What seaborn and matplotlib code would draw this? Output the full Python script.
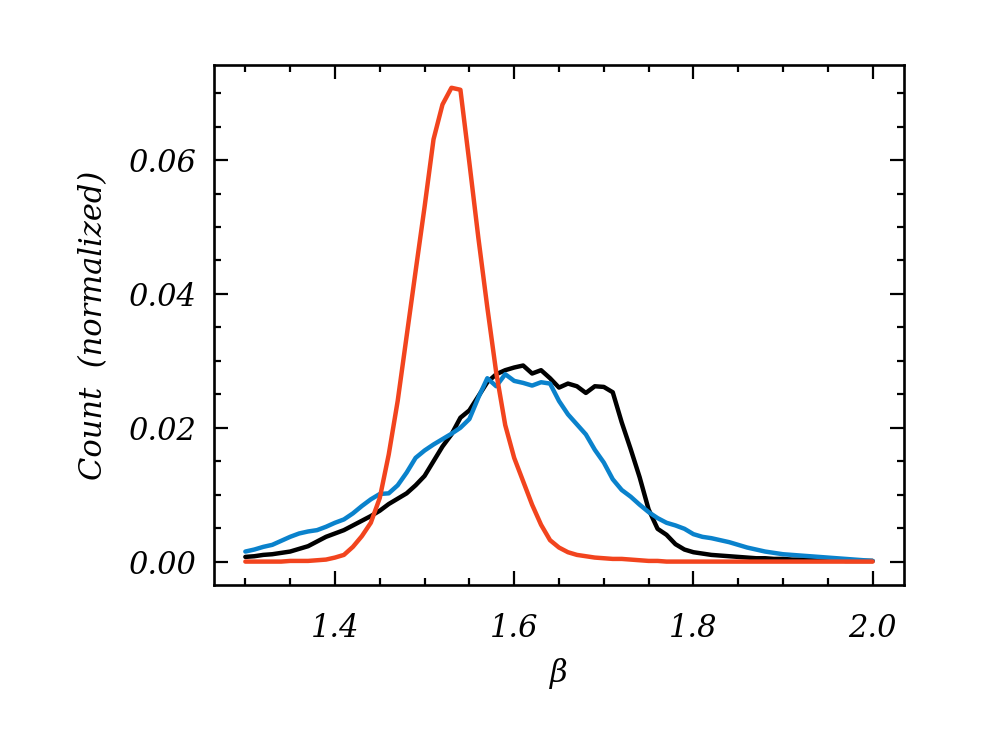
import matplotlib
matplotlib.use("Agg")
import matplotlib.pyplot as plt
import numpy as np
import pandas as pd
import seaborn as sns
from matplotlib.ticker import MultipleLocator

# beta grid (bin centres)
beta = np.round(np.arange(1.30, 2.0001, 0.01), 2)

count_black = [
    0.0007, 0.0008, 0.0010, 0.0011, 0.0013, 0.0015, 0.0019, 0.0023, 0.0030, 0.0037,
    0.0042, 0.0047, 0.0054, 0.0061, 0.0068, 0.0076, 0.0086, 0.0094, 0.0102, 0.0114,
    0.0128, 0.0150, 0.0172, 0.0190, 0.0215, 0.0226, 0.0247, 0.0268, 0.0280, 0.0286,
    0.0290, 0.0293, 0.0281, 0.0286, 0.0274, 0.0260, 0.0266, 0.0262, 0.0252, 0.0262,
    0.0261, 0.0253, 0.0208, 0.0168, 0.0126, 0.0078, 0.0049, 0.0040, 0.0026, 0.0018,
    0.0014, 0.0012, 0.0010, 0.0009, 0.0008, 0.0007, 0.0006, 0.0005, 0.0005, 0.0004,
    0.0004, 0.0003, 0.0003, 0.0003, 0.0002, 0.0002, 0.0002, 0.0001, 0.0001, 0.0001,
    0.0001,
]

count_blue = [
    0.0015, 0.0018, 0.0022, 0.0025, 0.0031, 0.0037, 0.0042, 0.0045, 0.0047, 0.0052,
    0.0058, 0.0063, 0.0072, 0.0083, 0.0093, 0.0101, 0.0102, 0.0114, 0.0133, 0.0155,
    0.0166, 0.0175, 0.0183, 0.0191, 0.0200, 0.0213, 0.0245, 0.0274, 0.0262, 0.0280,
    0.0270, 0.0267, 0.0263, 0.0268, 0.0266, 0.0240, 0.0220, 0.0205, 0.0190, 0.0167,
    0.0148, 0.0123, 0.0107, 0.0097, 0.0085, 0.0074, 0.0065, 0.0058, 0.0054, 0.0049,
    0.0041, 0.0037, 0.0035, 0.0032, 0.0029, 0.0025, 0.0021, 0.0018, 0.0015, 0.0013,
    0.0011, 0.0010, 0.0009, 0.0008, 0.0007, 0.0006, 0.0005, 0.0004, 0.0003, 0.0002,
    0.0001,
]

count_red = [
    0.0000, 0.0000, 0.0000, 0.0000, 0.0000, 0.0001, 0.0001, 0.0001, 0.0002, 0.0003,
    0.0006, 0.0010, 0.0022, 0.0038, 0.0058, 0.0095, 0.0160, 0.0240, 0.0337, 0.0434,
    0.0530, 0.0631, 0.0683, 0.0708, 0.0705, 0.0596, 0.0484, 0.0380, 0.0282, 0.0204,
    0.0155, 0.0120, 0.0085, 0.0055, 0.0032, 0.0021, 0.0014, 0.0010, 0.0008, 0.0006,
    0.0005, 0.0004, 0.0004, 0.0003, 0.0002, 0.0001, 0.0001, 0.0000, 0.0000, 0.0000,
    0.0000, 0.0000, 0.0000, 0.0000, 0.0000, 0.0000, 0.0000, 0.0000, 0.0000, 0.0000,
    0.0000, 0.0000, 0.0000, 0.0000, 0.0000, 0.0000, 0.0000, 0.0000, 0.0000, 0.0000,
    0.0000,
]

df = pd.DataFrame({
    "beta": np.concatenate([beta, beta, beta]),
    "count": count_black + count_blue + count_red,
    "series": ["black"] * len(beta) + ["blue"] * len(beta) + ["red"] * len(beta),
})

sns.set_style("ticks")
plt.rcParams["font.family"] = ["DejaVu Serif"]
plt.rcParams["font.style"] = "italic"
for key in ["text.color", "axes.labelcolor", "xtick.color", "ytick.color", "axes.edgecolor"]:
    plt.rcParams[key] = "black"

fig = plt.figure(figsize=(9.92, 7.38), dpi=100)
ax = fig.add_axes([0.2157, 0.2073, 0.6956, 0.7046])

palette = {"black": "#000000", "blue": "#0a82cc", "red": "#f2441e"}
sns.lineplot(
    data=df, x="beta", y="count", hue="series", palette=palette,
    legend=False, ax=ax,
)
for line in ax.lines:
    line.set_linewidth(3.2)
    line.set_solid_joinstyle("round")

ax.set_xlim(1.265, 2.035)
ax.set_ylim(-0.0035, 0.0742)
ax.xaxis.set_major_locator(MultipleLocator(0.2))
ax.xaxis.set_minor_locator(MultipleLocator(0.05))
ax.yaxis.set_major_locator(MultipleLocator(0.02))
ax.yaxis.set_minor_locator(MultipleLocator(0.005))
ax.xaxis.set_major_formatter(plt.FuncFormatter(lambda v, p: f"{v:.1f}"))
ax.yaxis.set_major_formatter(plt.FuncFormatter(lambda v, p: f"{v:.2f}"))

ax.tick_params(which="both", direction="in", top=True, right=True,
               width=1.6, labelsize=22)
ax.tick_params(which="major", length=10)
ax.tick_params(which="minor", length=5)
ax.tick_params(axis="x", which="major", pad=20)
ax.tick_params(axis="y", which="major", pad=13)
for s in ax.spines.values():
    s.set_linewidth(1.9)
    s.set_visible(True)

ax.set_xlabel("β", fontsize=22, labelpad=10)
ax.set_ylabel("Count  (normalized)", fontsize=22, labelpad=14)

fig.savefig("out.png", dpi=100)
